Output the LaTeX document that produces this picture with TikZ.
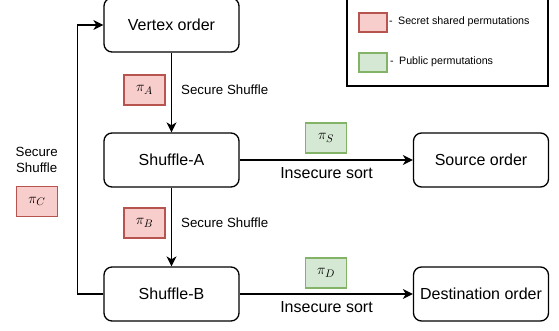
\documentclass[tikz,border=0pt]{standalone}
\usepackage{fontspec}
\setmainfont{Liberation Sans}
\usetikzlibrary{arrows.meta}
\definecolor{redfill}{HTML}{F8CECC}
\definecolor{redline}{HTML}{B85450}
\definecolor{greenfill}{HTML}{D5E8D4}
\definecolor{greenline}{HTML}{82B366}
\begin{document}
\begin{tikzpicture}[x=1pt,y=-1pt,
  stagebox/.style={draw, rounded corners=8pt, line width=1.3pt, minimum width=135pt, minimum height=54pt, inner sep=0pt, font=\fontsize{16}{19}\selectfont},
  secretperm/.style={draw=redline, fill=redfill, line width=1.3pt, minimum width=41pt, minimum height=30pt, inner sep=0pt, font=\fontsize{15}{18}\selectfont},
  publicperm/.style={draw=greenline, fill=greenfill, line width=1.3pt, minimum width=41pt, minimum height=30pt, inner sep=0pt, font=\fontsize{15}{18}\selectfont},
  smalllabel/.style={inner sep=0pt, font=\fontsize{13.3}{16.6}\selectfont},
  biglabel/.style={inner sep=0pt, font=\fontsize{16}{19}\selectfont},
  legendtext/.style={inner sep=0pt, anchor=west, font=\fontsize{10.7}{13}\selectfont},
  arr/.style={-{Stealth[length=10pt,width=10pt,inset=3pt]}, line width=1.3pt},
  plain/.style={line width=1.3pt}]
\useasboundingbox (0,0) rectangle (559,330);
% legend
\draw[line width=1.3pt] (347,-5) rectangle (548,86);
\node[secretperm, minimum width=28pt, minimum height=19pt] (lsec) at (373,22.5) {};
\node[publicperm, minimum width=28pt, minimum height=19pt] (lpub) at (373,62.5) {};
\node[legendtext] (lsect) at (389,22) {-\enspace Secret shared permutations};
\node[legendtext] (lpubt) at (390,62) {-\enspace Public permutations};
% stages
\node[stagebox] (vertex) at (171.5,25) {Vertex order};
\node[stagebox] (shufA) at (171.5,160) {Shuffle-A};
\node[stagebox] (shufB) at (171.5,294) {Shuffle-B};
\node[stagebox] (source) at (481,160) {Source order};
\node[stagebox] (dest) at (481,294) {Destination order};
% vertical arrows
\draw[arr] (vertex) -- (shufA);
\draw[arr] (shufA) -- (shufB);
\node[secretperm] (piA) at (144.5,90) {$\pi_A$};
\node[smalllabel, anchor=west] (ssA) at (181,90) {Secure Shuffle};
\node[secretperm] (piB) at (144.5,223) {$\pi_B$};
\node[smalllabel, anchor=west] (ssB) at (181,223) {Secure Shuffle};
% horizontal arrows
\draw[arr] (shufA) -- (source);
\draw[arr] (shufB) -- (dest);
\node[publicperm] (piS) at (326,138) {$\pi_S$};
\node[biglabel] (isA) at (326.5,173) {Insecure sort};
\node[publicperm] (piD) at (326,273) {$\pi_D$};
\node[biglabel] (isB) at (326.5,307) {Insecure sort};
% feedback
\coordinate (fb1) at (77.3,294);
\coordinate (fb2) at (77.3,25);
\draw[arr] (shufB.west) -- (fb1) -- (fb2) -- (vertex.west);
\node[smalllabel, align=center] (ssC) at (36.7,160) {Secure\\Shuffle};
\node[secretperm] (piC) at (37,201.5) {$\pi_C$};
\end{tikzpicture}
\end{document}
